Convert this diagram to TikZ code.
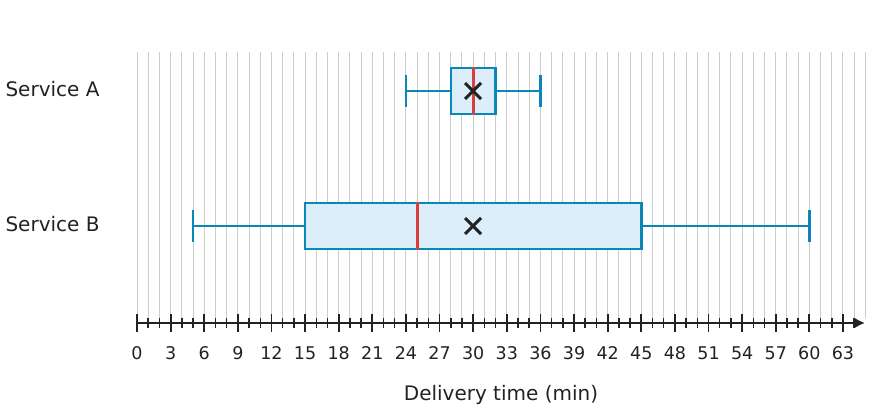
\documentclass[tikz,border=0pt]{standalone}
\usepackage{fontspec}
\usetikzlibrary{arrows.meta}
\setmainfont{DejaVu Sans}
\definecolor{bx}{HTML}{0A86B8}
\definecolor{bf}{HTML}{DCEEF9}
\definecolor{md}{HTML}{D8403A}
\definecolor{gr}{HTML}{CCCCCC}
\definecolor{tx}{HTML}{222222}
\begin{document}
\begin{tikzpicture}[x=1pt,y=-1pt,
  box/.style={draw=bx,line width=2.5pt,fill=bf},
  wh/.style={draw=bx,line width=2.5pt},
  med/.style={draw=md,line width=3pt},
  lab/.style={font=\fontsize{20}{24}\selectfont,text=tx},
  tl/.style={font=\fontsize{17.5}{20}\selectfont,text=tx}]
\useasboundingbox (0,0) rectangle (869,412);
\def\u{11.206}
\foreach \i in {0,...,65} \draw[gr,line width=1pt] (137+\i*\u,52) -- (137+\i*\u,318);
\coordinate (a0) at (137,323); \coordinate (a1) at (865,323);
\draw[tx,line width=2pt,-{Latex[length=10pt,width=10pt]}] (a0) -- (a1);
\foreach \i in {0,...,64} \draw[tx,line width=1.5pt] (137+\i*\u,318) -- (137+\i*\u,328);
\foreach \i in {0,3,...,63} {
  \draw[tx,line width=1.8pt] (137+\i*\u,314) -- (137+\i*\u,332);
  \node[tl,anchor=north] (t\i) at (137+\i*\u,343) {\i};}
\node[lab] (xl) at (501,395) {Delivery time (min)};
\node[lab,anchor=west] (sa) at (2,89) {Service A};
\node[lab,anchor=west] (sb) at (2,224) {Service B};
% Service A
\draw[wh] (137+24*\u,91) -- (137+28*\u,91) (137+32*\u,91) -- (137+36*\u,91);
\draw[wh] (137+24*\u,75) -- (137+24*\u,107) (137+36*\u,75) -- (137+36*\u,107);
\draw[box] (137+28*\u,68) rectangle (137+32*\u,114);
\draw[med] (137+30*\u,67) -- (137+30*\u,115);
\draw[tx,line width=3pt] (473-8,83) -- (473+8,99) (473-8,99) -- (473+8,83);
% Service B
\draw[wh] (137+5*\u,226) -- (137+15*\u,226) (137+45*\u,226) -- (137+60*\u,226);
\draw[wh] (137+5*\u,210) -- (137+5*\u,242) (137+60*\u,210) -- (137+60*\u,242);
\draw[box] (137+15*\u,203) rectangle (137+45*\u,249);
\draw[med] (137+25*\u,202) -- (137+25*\u,250);
\draw[tx,line width=3pt] (473-8,218) -- (473+8,234) (473-8,234) -- (473+8,218);
\end{tikzpicture}
\end{document}
